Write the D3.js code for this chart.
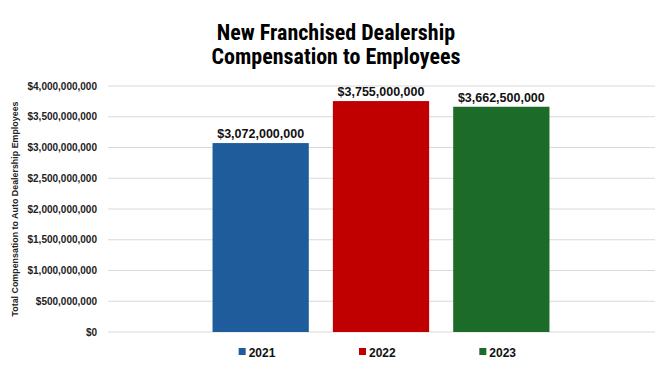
<!DOCTYPE html>
<html>
<head>
<meta charset="utf-8">
<script src="https://cdn.jsdelivr.net/npm/d3@7"></script>
<style>
  body { margin: 0; background: #fff; }
  svg { display: block; font-family: "Liberation Sans", Arial, sans-serif; }
</style>
</head>
<body>
<svg id="chart" width="670" height="377"></svg>
<script>
// chart data
var years = ["2021", "2022", "2023"];
var values = [3072000000, 3755000000, 3662500000];
var colors = ["#1f5c9c", "#c00000", "#1d6b28"];
var yTicks = [0, 500000000, 1000000000, 1500000000, 2000000000, 2500000000, 3000000000, 3500000000, 4000000000];
var titleLines = ["New Franchised Dealership", "Compensation to Employees"];
var yTitle = "Total Compensation to Auto Dealership Employees";

var svg = d3.select("#chart"),
    width = +svg.attr("width"),
    height = +svg.attr("height");

var plot = { left: 108, right: 655, top: 86, bottom: 332 };

var y = d3.scaleLinear().domain([0, 4000000000]).range([plot.bottom, plot.top]);
var x = d3.scaleBand().domain(years).range([200.5, 561.5]).paddingInner(0.2).paddingOuter(0.1);

var money = d3.format("$,.0f");

// title
svg.append("g").selectAll("text")
    .data(titleLines)
    .enter().append("text")
    .attr("x", 336)
    .attr("y", function(d, i) { return 40 + i * 24; })
    .attr("text-anchor", "middle")
    .style("font-family", "'Liberation Sans Narrow', 'Roboto Condensed', Arial, sans-serif")
    .style("font-weight", "bold")
    .style("font-size", "22px")
    .attr("fill", "#000")
    .text(function(d) { return d; });

// gridlines
svg.append("g").selectAll("line")
    .data(yTicks)
    .enter().append("line")
    .attr("x1", plot.left).attr("x2", plot.right)
    .attr("y1", function(d) { return y(d); })
    .attr("y2", function(d) { return y(d); })
    .attr("stroke", "#d9d9d9")
    .attr("stroke-width", 1);

// y axis labels
var yAxis = d3.axisLeft(y).tickValues(yTicks).tickFormat(money).tickSize(0).tickPadding(0);
var ya = svg.append("g").attr("transform", "translate(97,0)").call(yAxis);
ya.select(".domain").remove();
ya.selectAll("text")
    .style("font-family", "'Liberation Sans', Arial, sans-serif")
    .style("font-weight", "bold")
    .style("font-size", "10px")
    .attr("fill", "#222");

// y title
svg.append("text")
    .attr("transform", "translate(18," + ((plot.top + plot.bottom) / 2) + ") rotate(-90)")
    .attr("text-anchor", "middle")
    .style("font-weight", "bold")
    .style("font-size", "8.9px")
    .attr("fill", "#222")
    .text(yTitle);

// bars
svg.append("g").selectAll("rect")
    .data(values)
    .enter().append("rect")
    .attr("x", function(d, i) { return x(years[i]); })
    .attr("y", function(d) { return y(d); })
    .attr("width", x.bandwidth())
    .attr("height", function(d) { return y(0) - y(d); })
    .attr("fill", function(d, i) { return colors[i]; });

// data labels
svg.append("g").selectAll("text")
    .data(values)
    .enter().append("text")
    .attr("x", function(d, i) { return x(years[i]) + x.bandwidth() / 2; })
    .attr("y", function(d) { return y(d) - 5; })
    .attr("text-anchor", "middle")
    .style("font-weight", "bold")
    .style("font-size", "12.5px")
    .attr("fill", "#111")
    .text(function(d) { return money(d); });

// legend
var leg = svg.append("g").selectAll("g")
    .data(years)
    .enter().append("g")
    .attr("transform", function(d) { return "translate(" + (x(d) + x.bandwidth() / 2 - 22) + ",352)"; });
leg.append("rect")
    .attr("x", 0).attr("y", -4)
    .attr("width", 7).attr("height", 7)
    .attr("fill", function(d, i) { return colors[i]; });
leg.append("text")
    .attr("x", 10).attr("y", 4.5)
    .style("font-weight", "bold")
    .style("font-size", "12px")
    .attr("fill", "#111")
    .text(function(d) { return d; });
</script>
</body>
</html>
